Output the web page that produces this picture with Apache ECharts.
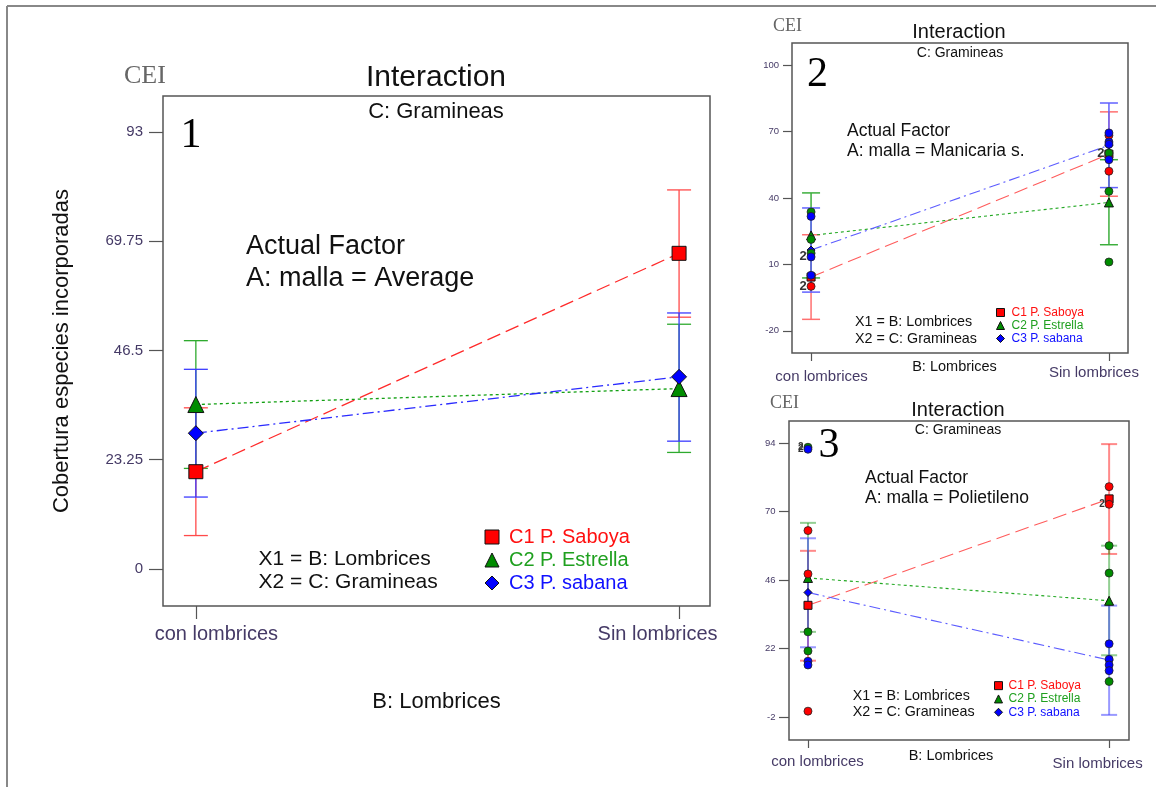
<!DOCTYPE html>
<html>
<head>
<meta charset="utf-8">
<script src="https://cdn.jsdelivr.net/npm/echarts@6/dist/echarts.min.js"></script>
<style>
  html, body { margin: 0; padding: 0; background: #fff; }
  #chart { width: 1156px; height: 787px; }
</style>
</head>
<body>
<div id="chart"></div>
<script>
// Levels of factor B (x axis) and factor C (one trace each)
const categories = ['con lombrices', 'Sin lombrices'];
const seriesNames = ['C1 P. Saboya', 'C2 P. Estrella', 'C3 P. sabana'];
const factorLevels = ['Average', 'Manicaria s.', 'Polietileno'];

// Panel 1: A = Average. Rows: C1, C2, C3; columns: con / Sin lombrices
const avgMean = [[20.7, 67.2], [35.0, 38.4], [28.9, 40.9]];
const avgLow  = [[7.1, 53.6], [21.4, 24.8], [15.3, 27.2]];
const avgHigh = [[34.3, 80.7], [48.6, 52.1], [42.5, 54.5]];
const avgTicks = [0, 23.25, 46.5, 69.75, 93];

// Panel 2: A = Manicaria s.
const manMean = [[4.3, 59.8], [23.1, 38.0], [16.5, 63.8]];
const manLow  = [[-14.8, 40.8], [3.9, 18.9], [-2.5, 44.7]];
const manHigh = [[23.4, 78.9], [42.3, 57.3], [35.5, 82.9]];
const manTicks = [-20, 10, 40, 70, 100];
// observed values: [level of B, value, number of coincident points]
const manObsC1 = [[0, 0.1, 2], [1, 68.3, 1], [1, 52.1, 1]];
const manObsC2 = [[0, 33.7, 1], [0, 21.3, 1], [0, 15.1, 1], [1, 60.3, 2], [1, 43.0, 1], [1, 11.1, 1]];
const manObsC3 = [[0, 31.7, 1], [0, 13.4, 2], [0, 5.1, 1], [1, 69.4, 1], [1, 65.3, 1], [1, 64.3, 1], [1, 57.3, 1]];

// Panel 3: A = Polietileno
const polMean = [[37.2, 74.5], [46.8, 38.8], [41.7, 18.0]];
const polLow  = [[17.8, 55.2], [27.9, 19.7], [22.5, -1.2]];
const polHigh = [[56.3, 93.7], [66.1, 58.1], [60.7, 37.1]];
const polTicks = [-2, 22, 46, 70, 94];
const polObsC1 = [[0, 63.4, 1], [0, 48.2, 1], [0, 0.1, 1], [1, 78.8, 1], [1, 72.6, 2]];
const polObsC2 = [[0, 92.6, 2], [0, 27.9, 1], [0, 21.2, 1], [1, 58.1, 1], [1, 48.5, 1], [1, 10.5, 1]];
const polObsC3 = [[0, 91.9, 2], [0, 17.6, 1], [0, 16.3, 1], [1, 23.7, 1], [1, 18.3, 1], [1, 16.3, 1], [1, 14.3, 1]];

const SANS = "'Liberation Sans', Arial, sans-serif";
const SERIF = "'Liberation Serif', 'Times New Roman', serif";
const TICK_COLOR = '#453a66';
const markFill = ['#ff0000', '#008c00', '#0000ff'];
const legendText = ['#ff1010', '#1fa01f', '#1010ff'];
const icons = ['rect', 'triangle', 'diamond'];
const dashes = [[14, 6], [3, 3], [11, 4, 2, 4]];

// layout and styling of each of the three interaction plots
const panels = [
  {
    mean: avgMean, low: avgLow, high: avgHigh, obs: null, ticks: avgTicks,
    grid: { left: 163, top: 96, width: 547, height: 510 },
    yRange: [-7.9, 100.7], xRange: [-0.068, 1.064],
    yLabelSize: 15, yLabelMargin: 20, yTickLen: 14,
    xLabelSize: 20, xLabelMargin: 18, xTickLen: 13,
    xPad: [[0, 0, 0, 41], [0, 43, 0, 0]],
    xName: 'B: Lombrices', xNameSize: 22, xNameGap: 85, xNamePad: [0, 0, 0, 0],
    yName: 'Cobertura especies incorporadas',
    symbolSize: [14, 16, 15], lineWidth: 1.3,
    lineColors: ['#ff2a2a', '#12a012', '#2a2aff'],
    barColors: ['#ff4a4a', '#2eaa2e', '#3c3cff'], barWidth: 1.3, capHalf: 12,
    legend: { left: 484.5, top: 527, size: 20, lh: 20, gap: 3, icon: 14, pad: 5 }
  },
  {
    mean: manMean, low: manLow, high: manHigh, obs: [manObsC1, manObsC2, manObsC3], ticks: manTicks,
    grid: { left: 792, top: 43, width: 336, height: 310 },
    yRange: [-30, 110], xRange: [-0.064, 1.064],
    yLabelSize: 9.5, yLabelMargin: 13, yTickLen: 9,
    xLabelSize: 15, xLabelMargin: 12, xTickLen: 8,
    xPad: [[4, 0, 0, 21], [0, 30, 0, 0]],
    xName: 'B: Lombrices', xNameSize: 14.5, xNameGap: 6, xNamePad: [0, 11, 0, 0],
    yName: '',
    symbolSize: [8, 9, 8], lineWidth: 1.1,
    lineColors: ['#ff5c5c', '#22a822', '#5c5cff'],
    barColors: ['#ff7070', '#3cae3c', '#6262ff'], barWidth: 1.5, capHalf: 9,
    obsSize: 8, countSize: 13,
    legend: { left: 996, top: 306, size: 12, lh: 13, gap: 0, icon: 8, pad: 2 }
  },
  {
    mean: polMean, low: polLow, high: polHigh, obs: [polObsC1, polObsC2, polObsC3], ticks: polTicks,
    grid: { left: 789, top: 421, width: 340, height: 319 },
    yRange: [-10, 101.8], xRange: [-0.063, 1.066],
    yLabelSize: 9.5, yLabelMargin: 13.5, yTickLen: 10,
    xLabelSize: 15, xLabelMargin: 14, xTickLen: 8,
    xPad: [[0, 0, 0, 19], [2, 23, 0, 0]],
    xName: 'B: Lombrices', xNameSize: 14.5, xNameGap: 8, xNamePad: [0, 16, 0, 0],
    yName: '',
    symbolSize: [8, 9, 8], lineWidth: 1.1,
    lineColors: ['#ff5c5c', '#22a822', '#5c5cff'],
    barColors: ['rgba(255,60,60,0.6)', 'rgba(40,160,40,0.5)', 'rgba(70,70,255,0.55)'], barWidth: 2, capHalf: 8,
    obsSize: 8, countSize: 10,
    legend: { left: 994, top: 679, size: 12, lh: 13.3, gap: 0, icon: 8, pad: 1 }
  }
];

function errorBar(color, width, capHalf) {
  return function (params, api) {
    const x = api.value(0);
    const top = api.coord([x, api.value(2)]);
    const bot = api.coord([x, api.value(1)]);
    const style = { stroke: color, lineWidth: width };
    return {
      type: 'group',
      children: [
        { type: 'line', shape: { x1: top[0], y1: top[1], x2: bot[0], y2: bot[1] }, style },
        { type: 'line', shape: { x1: top[0] - capHalf, y1: top[1], x2: top[0] + capHalf, y2: top[1] }, style },
        { type: 'line', shape: { x1: bot[0] - capHalf, y1: bot[1], x2: bot[0] + capHalf, y2: bot[1] }, style }
      ]
    };
  };
}

const grids = [], xAxes = [], yAxes = [], series = [], legends = [];

panels.forEach((p, i) => {
  grids.push(Object.assign({ show: true, borderColor: '#555', borderWidth: 1.5, backgroundColor: 'transparent' }, p.grid));

  xAxes.push({
    type: 'value', gridIndex: i, position: 'bottom', min: p.xRange[0], max: p.xRange[1],
    axisLine: { show: false, onZero: false }, splitLine: { show: false },
    axisTick: { show: true, inside: false, length: p.xTickLen, customValues: [0, 1], lineStyle: { color: '#555', width: 1.2 } },
    axisLabel: {
      customValues: [0, 1], margin: p.xLabelMargin,
      fontFamily: SANS, fontSize: p.xLabelSize, color: TICK_COLOR,
      formatter: v => '{c' + Math.round(v) + '|' + categories[Math.round(v)] + '}',
      rich: {
        c0: { padding: p.xPad[0], fontFamily: SANS, fontSize: p.xLabelSize, color: TICK_COLOR },
        c1: { padding: p.xPad[1], fontFamily: SANS, fontSize: p.xLabelSize, color: TICK_COLOR }
      }
    },
    name: p.xName, nameLocation: 'middle', nameGap: p.xNameGap, nameMoveOverlap: false,
    nameTextStyle: { fontFamily: SANS, fontSize: p.xNameSize, color: '#111', padding: p.xNamePad }
  });

  yAxes.push({
    type: 'value', gridIndex: i, position: 'left', min: p.yRange[0], max: p.yRange[1],
    axisLine: { show: false, onZero: false }, splitLine: { show: false },
    axisTick: { show: true, inside: false, length: p.yTickLen, customValues: p.ticks, lineStyle: { color: '#555', width: 1.2 } },
    axisLabel: {
      customValues: p.ticks, margin: p.yLabelMargin,
      fontFamily: SANS, fontSize: p.yLabelSize, color: TICK_COLOR,
      formatter: v => String(v)
    },
    name: p.yName, nameLocation: 'middle', nameRotate: 90, nameGap: 90, nameMoveOverlap: false,
    nameTextStyle: { fontFamily: SANS, fontSize: 22, color: '#111' }
  });

  seriesNames.forEach((name, k) => {
    // confidence interval bars
    series.push({
      type: 'custom', xAxisIndex: i, yAxisIndex: i, z: 1, silent: true,
      renderItem: errorBar(p.barColors[k], p.barWidth, p.capHalf),
      encode: { x: 0, y: [1, 2] },
      data: [0, 1].map(j => [j, p.low[k][j], p.high[k][j]])
    });
    // predicted means joined across the levels of B
    series.push({
      type: 'line', name, xAxisIndex: i, yAxisIndex: i, z: 3,
      data: [0, 1].map(j => [j, p.mean[k][j]]),
      symbol: icons[k], symbolSize: p.symbolSize[k], showSymbol: true,
      itemStyle: { color: markFill[k], borderColor: '#111', borderWidth: 1 },
      lineStyle: { color: p.lineColors[k], width: p.lineWidth, type: dashes[k] },
      emphasis: { disabled: true }, animation: false
    });
  });

  if (p.obs) {
    seriesNames.forEach((name, k) => {
      series.push({
        type: 'scatter', name: 'obs ' + name, xAxisIndex: i, yAxisIndex: i, z: 4,
        data: p.obs[k], symbol: 'circle', symbolSize: p.obsSize,
        itemStyle: { color: markFill[k], borderColor: '#222', borderWidth: 0.8, opacity: 1 },
        label: {
          show: true, position: 'left', distance: 0,
          fontFamily: SANS, fontSize: p.countSize, color: '#333', fontWeight: 'bold',
          formatter: d => (d.value[2] > 1 ? String(d.value[2]) : '')
        },
        emphasis: { disabled: true }, animation: false
      });
    });
  }

  legends.push({
    orient: 'vertical', left: p.legend.left, top: p.legend.top, padding: 0,
    itemWidth: p.legend.icon, itemHeight: p.legend.icon, itemGap: p.legend.gap,
    selectedMode: false,
    textStyle: { fontFamily: SANS, fontSize: p.legend.size, lineHeight: p.legend.lh, padding: [0, 0, 0, p.legend.pad] },
    data: seriesNames.map((n, k) => ({
      name: n, icon: icons[k],
      itemStyle: { color: markFill[k], borderColor: '#111', borderWidth: 1 },
      textStyle: { color: legendText[k] }
    }))
  });
});

function txt(x, y, text, size, opts) {
  const o = opts || {};
  const align = o.align || 'left';
  return {
    type: 'text', x, y, silent: true,
    style: {
      text, fill: o.fill || '#111',
      font: size + 'px ' + (o.serif ? SERIF : SANS),
      align, verticalAlign: 'middle', textAlign: align, textVerticalAlign: 'middle'
    }
  };
}

const graphics = [
  // outer frame
  { type: 'line', silent: true, shape: { x1: 7, y1: 6, x2: 1156, y2: 6 }, style: { stroke: '#888', lineWidth: 2 } },
  { type: 'line', silent: true, shape: { x1: 7, y1: 6, x2: 7, y2: 787 }, style: { stroke: '#888', lineWidth: 2 } },

  // panel 1
  txt(124, 76, 'CEI', 26, { serif: true, fill: '#666' }),
  txt(436, 78, 'Interaction', 30, { align: 'center' }),
  txt(436, 111.5, 'C: Gramineas', 22, { align: 'center' }),
  txt(191, 136, '1', 42, { serif: true, align: 'center', fill: '#000' }),
  txt(246, 247, 'Actual Factor', 27),
  txt(246, 278.5, 'A: malla = ' + factorLevels[0], 27),
  txt(258.6, 559, 'X1 = B: Lombrices', 21),
  txt(258.6, 582.5, 'X2 = C: Gramineas', 21),

  // panel 2
  txt(773, 26, 'CEI', 18, { serif: true, fill: '#666' }),
  txt(959, 32.7, 'Interaction', 20, { align: 'center' }),
  txt(960, 52.7, 'C: Gramineas', 14, { align: 'center' }),
  txt(817.5, 75, '2', 42, { serif: true, align: 'center', fill: '#000' }),
  txt(847, 130.7, 'Actual Factor', 17.5),
  txt(847, 150.7, 'A: malla = ' + factorLevels[1], 17.5),
  txt(855, 322, 'X1 = B: Lombrices', 14.3),
  txt(855, 338.7, 'X2 = C: Gramineas', 14.3),

  // panel 3
  txt(770, 403.3, 'CEI', 18, { serif: true, fill: '#666' }),
  txt(958, 410, 'Interaction', 20, { align: 'center' }),
  txt(958, 430, 'C: Gramineas', 14, { align: 'center' }),
  txt(829, 445.7, '3', 42, { serif: true, align: 'center', fill: '#000' }),
  txt(865, 478.3, 'Actual Factor', 17.5),
  txt(865, 498.3, 'A: malla = ' + factorLevels[2], 17.5),
  txt(852.7, 695.7, 'X1 = B: Lombrices', 14.3),
  txt(852.7, 711.7, 'X2 = C: Gramineas', 14.3)
];

const chart = echarts.init(document.getElementById('chart'), null, { renderer: 'canvas' });
chart.setOption({
  backgroundColor: '#fff',
  animation: false,
  grid: grids,
  xAxis: xAxes,
  yAxis: yAxes,
  legend: legends,
  series,
  graphic: graphics
});
</script>
</body>
</html>
